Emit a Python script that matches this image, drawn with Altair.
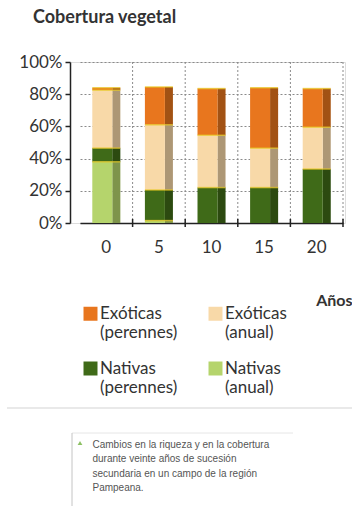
import altair as alt
import pandas as pd

# Cobertura vegetal (% del suelo) por años de sucesión
years = ["0", "5", "10", "15", "20"]
exoticas_perennes = [1.5, 23.5, 29, 37.5, 24]
exoticas_anual = [36, 40.5, 32.5, 24.5, 26]
nativas_perennes = [8.5, 19, 22, 22, 33.5]
nativas_anual = [38, 1.5, 0, 0, 0]

categories = ["Exóticas (perennes)", "Exóticas (anual)", "Nativas (perennes)", "Nativas (anual)"]
colors = ["#E8761E", "#F8D9A8", "#3F6A18", "#B5D46C"]
stack_order = [4, 3, 2, 1]  # bottom of the stack = Nativas (anual)

y_ticks = [0, 20, 40, 60, 80, 100]
caption_lines = [
    "Cambios en la riqueza y en la cobertura",
    "durante veinte años de sucesión",
    "secundaria en un campo de la región",
    "Pampeana.",
]

series = [exoticas_perennes, exoticas_anual, nativas_perennes, nativas_anual]
rows = []
for cat, vals, order in zip(categories, series, stack_order):
    for yr, v in zip(years, vals):
        rows.append({"year": yr, "category": cat, "value": v, "order": order})
df = pd.DataFrame(rows)

W, H = 275, 161
FONT = "Lato"
TEXT = "#333333"

x_scale = alt.Scale(domain=years, range=[10, 273], paddingInner=0, paddingOuter=0)
x_axis = alt.Axis(
    title="Años",
    titleFont=FONT, titleFontSize=16, titleFontWeight="bold", titleColor=TEXT,
    titleAlign="right", titleBaseline="middle", titleX=282, titleY=77,
    labelFont=FONT, labelFontSize=17, labelColor=TEXT, labelAngle=0,
    labelPadding=16, ticks=False, domainColor="#222222", domainWidth=1.5,
    grid=False,
)
y_scale = alt.Scale(domain=[0, 100])
y_axis = alt.Axis(
    title=None, values=y_ticks, labelExpr="datum.value + '%'",
    labelFont=FONT, labelFontSize=17, labelColor=TEXT, labelPadding=3,
    tickSize=5, tickColor="#222222", tickWidth=1.5,
    domainColor="#222222", domainWidth=1.5,
    grid=True, gridColor="#8a8a8a", gridDash=[2, 2], gridWidth=1,
)
x_enc = alt.X("year:N", sort=years, scale=x_scale, axis=x_axis)
y_enc = alt.Y("value:Q", stack="zero", scale=y_scale, axis=y_axis)
color_enc = alt.Color(
    "category:N",
    sort=categories,
    scale=alt.Scale(domain=categories, range=colors),
    legend=alt.Legend(
        title=None, orient="none", legendX=12, legendY=243, columns=2,
        direction="horizontal",
        symbolType="square", symbolSize=196, symbolStrokeWidth=0,
        labelExpr="split(datum.label, ' ')", labelFont=FONT, labelFontSize=17,
        labelColor=TEXT, labelOffset=1, columnPadding=29, rowPadding=18,
        labelLimit=200,
    ),
)

base = alt.Chart(df)

# shaded side face of each stacked bar
side = base.mark_bar(size=8, xOffset=10).encode(
    x=x_enc, y=y_enc, color=color_enc, order=alt.Order("order:Q"),
)
side_shade = base.mark_bar(size=8, xOffset=10, color="black", opacity=0.3).encode(
    x=x_enc, y=y_enc, detail="category:N", order=alt.Order("order:Q"),
)
front = base.mark_bar(size=20, xOffset=-4).encode(
    x=x_enc, y=y_enc, color=color_enc, order=alt.Order("order:Q"),
)
# thin yellow edge on top of every segment
seams = base.transform_filter(alt.datum.value > 0).transform_stack(
    stack="value", groupby=["year"], as_=["v0", "v1"],
    sort=[alt.SortField("order", order="ascending")],
).mark_tick(orient="horizontal", size=28, thickness=1.5, color="#E8C820").encode(
    x=x_enc,
    y=alt.Y("v1:Q", scale=y_scale, axis=y_axis),
)

edges = base.transform_filter(alt.datum.category == categories[0])
# vertical dotted grid at the band edges
vgrid = edges.mark_rule(color="#8a8a8a", strokeDash=[2, 2], strokeWidth=1).encode(
    x=alt.X("year:N", sort=years, scale=x_scale, axis=x_axis, bandPosition=1),
    y=alt.value(0), y2=alt.value(H),
)
xticks = edges.mark_rule(color="#222222", strokeWidth=1.5).encode(
    x=alt.X("year:N", sort=years, scale=x_scale, axis=x_axis, bandPosition=1),
    y=alt.value(H - 4), y2=alt.value(H + 4),
)

separator = alt.Chart(pd.DataFrame({"k": [0]})).mark_rule(color="#e2e2e2", strokeWidth=1.5).encode(
    x=alt.value(-63), x2=alt.value(282), y=alt.value(346),
)
box_top = alt.Chart(pd.DataFrame({"k": [0]})).mark_rule(color="#e6e6e6", strokeWidth=1).encode(
    x=alt.value(2), x2=alt.value(223), y=alt.value(371),
)
box_left = alt.Chart(pd.DataFrame({"k": [0]})).mark_rule(color="#c4c4c4", strokeWidth=1).encode(
    x=alt.value(2), y=alt.value(371), y2=alt.value(444),
)
marker = alt.Chart(pd.DataFrame({"k": [0]})).mark_point(
    shape="triangle-up", filled=True, color="#8cc063", size=22, opacity=1
).encode(x=alt.value(10), y=alt.value(381))
caption = alt.Chart(pd.DataFrame({"t": ["\n".join(caption_lines)]})).mark_text(
    align="left", baseline="middle", lineBreak="\n", lineHeight=14.3,
    font="Liberation Sans", fontSize=10, color="#555555",
).encode(x=alt.value(22.5), y=alt.value(383), text="t:N")

chart = alt.layer(
    side, side_shade, front, seams, vgrid, xticks, separator, box_top, box_left, marker, caption
).properties(
    width=W,
    height=H,
    title=alt.TitleParams(
        "Cobertura vegetal", anchor="start", frame="group", dx=-37, offset=26,
        font=FONT, fontSize=18, fontWeight="bold", color=TEXT,
    ),
    autosize=alt.AutoSizeParams(type="none"),
    padding={"left": 70, "top": 62, "right": 7, "bottom": 283},
).configure_view(stroke=None).configure(background="white")

chart.save("out.html", embed_options={"renderer": "svg", "actions": False})
